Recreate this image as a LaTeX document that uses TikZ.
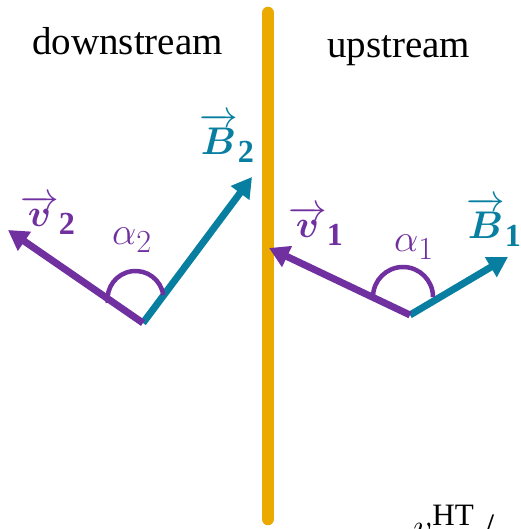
\documentclass[tikz,border=0pt]{standalone}
\usepackage{amsmath,bm}
\usepackage{fontspec}
\setmainfont{Liberation Serif}
\usetikzlibrary{arrows.meta}
\definecolor{shockorange}{RGB}{234,170,0}
\definecolor{vpurple}{RGB}{112,48,160}
\definecolor{bteal}{RGB}{8,127,160}
\tikzset{
  vecarrow/.style={line width=7pt,-{Triangle[length=20pt,width=22pt]}},
  anglearc/.style={line width=4.5pt,vpurple},
  mathlabel/.style={inner sep=0pt,font=\Huge,scale=1.55},
  sidelabel/.style={inner sep=0pt,anchor=base,font=\fontsize{39}{46}\selectfont}
}
\begin{document}
\begin{tikzpicture}[x=1pt,y=1pt]
\useasboundingbox (0,0) rectangle (520,529);
\clip (0,0) rectangle (520,529);
% shock front
\draw[line width=12.5pt,line cap=round,shockorange] (268,516) -- (268,10);
% side labels
\node[sidelabel] (down) at (127.5,474) {downstream};
\node[sidelabel] (up) at (398.5,471) {upstream};
% downstream vectors
\coordinate (O2) at (143,206);
\coordinate (v2tip) at (8,299);
\coordinate (B2tip) at (252,352);
\draw[vecarrow,bteal] (O2) -- (B2tip);
\draw[vecarrow,vpurple] (O2) -- (v2tip);
\draw[anglearc] (107.8,226.1) arc[start angle=188,end angle=8,radius=28];
\node[mathlabel,text=vpurple] (v2) at (48,314) {$\overrightarrow{\bm{v}}_{\mathbf{2}}$};
\node[mathlabel,text=bteal] (B2) at (227,391) {$\overrightarrow{\bm{B}}_{\mathbf{2}}$};
\node[mathlabel,text=vpurple] (a2) at (132,289) {$\alpha_2$};
% upstream vectors
\coordinate (O1) at (410,214);
\coordinate (v1tip) at (269,281);
\coordinate (B1tip) at (508,272);
\draw[vecarrow,bteal] (O1) -- (B1tip);
\draw[vecarrow,vpurple] (O1) -- (v1tip);
\draw[anglearc] (373,232) arc[start angle=180,end angle=0,radius=30];
\node[mathlabel,text=vpurple] (v1) at (316,303) {$\overrightarrow{\bm{v}}_{\mathbf{1}}$};
\node[mathlabel,text=bteal] (B1) at (494,307) {$\overrightarrow{\bm{B}}_{\mathbf{1}}$};
\node[mathlabel,text=vpurple] (a1) at (414,282) {$\alpha_1$};
% cut-off bottom text
\node[inner sep=0pt,anchor=base west,font=\Huge,scale=1.5] (vht) at (413,-10) {$v^{\mathrm{HT}}$ /};
\end{tikzpicture}
\end{document}
